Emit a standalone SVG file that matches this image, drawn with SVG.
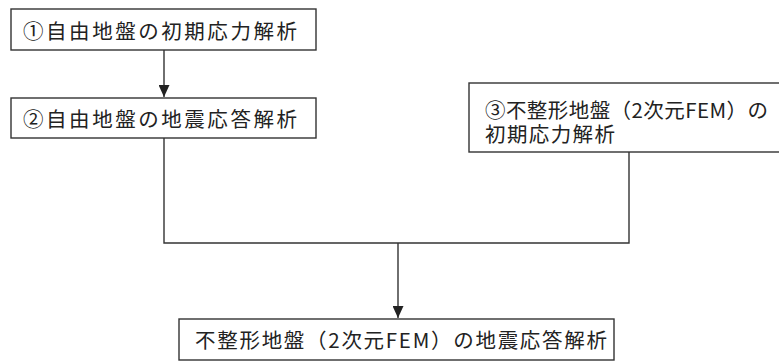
<svg xmlns="http://www.w3.org/2000/svg" width="779" height="361" viewBox="0 0 779 361">
<defs>
<style>
.box{fill:#fff;stroke:#333;stroke-width:1.4}
.ln{fill:none;stroke:#333;stroke-width:1.4}
.t{font-family:"Noto Sans CJK JP","Noto Sans",sans-serif;font-size:20.5px;fill:#222}
</style>
<marker id="ah" markerWidth="12" markerHeight="11" refX="12" refY="5.5" orient="auto" markerUnits="userSpaceOnUse" viewBox="0 0 12 11">
<path d="M0,0 L12,5.5 L0,11 Z" fill="#222"/>
</marker>
</defs>
<rect width="779" height="361" fill="#fff"/>
<g id="connectors">
<line class="ln" x1="164" y1="50" x2="164" y2="97" marker-end="url(#ah)"/>
<polyline class="ln" points="164,138 164,243 629,243 629,152"/>
<line class="ln" x1="398" y1="243" x2="398" y2="318" marker-end="url(#ah)"/>
</g>
<g id="n1">
<rect class="box" x="11" y="9" width="305" height="41"/>
<text class="t" x="23" y="39" textLength="274" lengthAdjust="spacing">①自由地盤の初期応力解析</text>
</g>
<g id="n2">
<rect class="box" x="11" y="98" width="305" height="40"/>
<text class="t" x="23" y="127" textLength="274" lengthAdjust="spacing">②自由地盤の地震応答解析</text>
</g>
<g id="n3">
<rect class="box" x="469" y="83" width="320" height="69"/>
<text class="t"><tspan x="485" y="118" textLength="283" lengthAdjust="spacing">③不整形地盤（2次元FEM）の</tspan><tspan x="485" y="142" textLength="130" lengthAdjust="spacing">初期応力解析</tspan></text>
</g>
<g id="n4">
<rect class="box" x="179" y="319" width="435" height="41"/>
<text class="t" x="195" y="348" textLength="412" lengthAdjust="spacing">不整形地盤（2次元FEM）の地震応答解析</text>
</g>
</svg>
